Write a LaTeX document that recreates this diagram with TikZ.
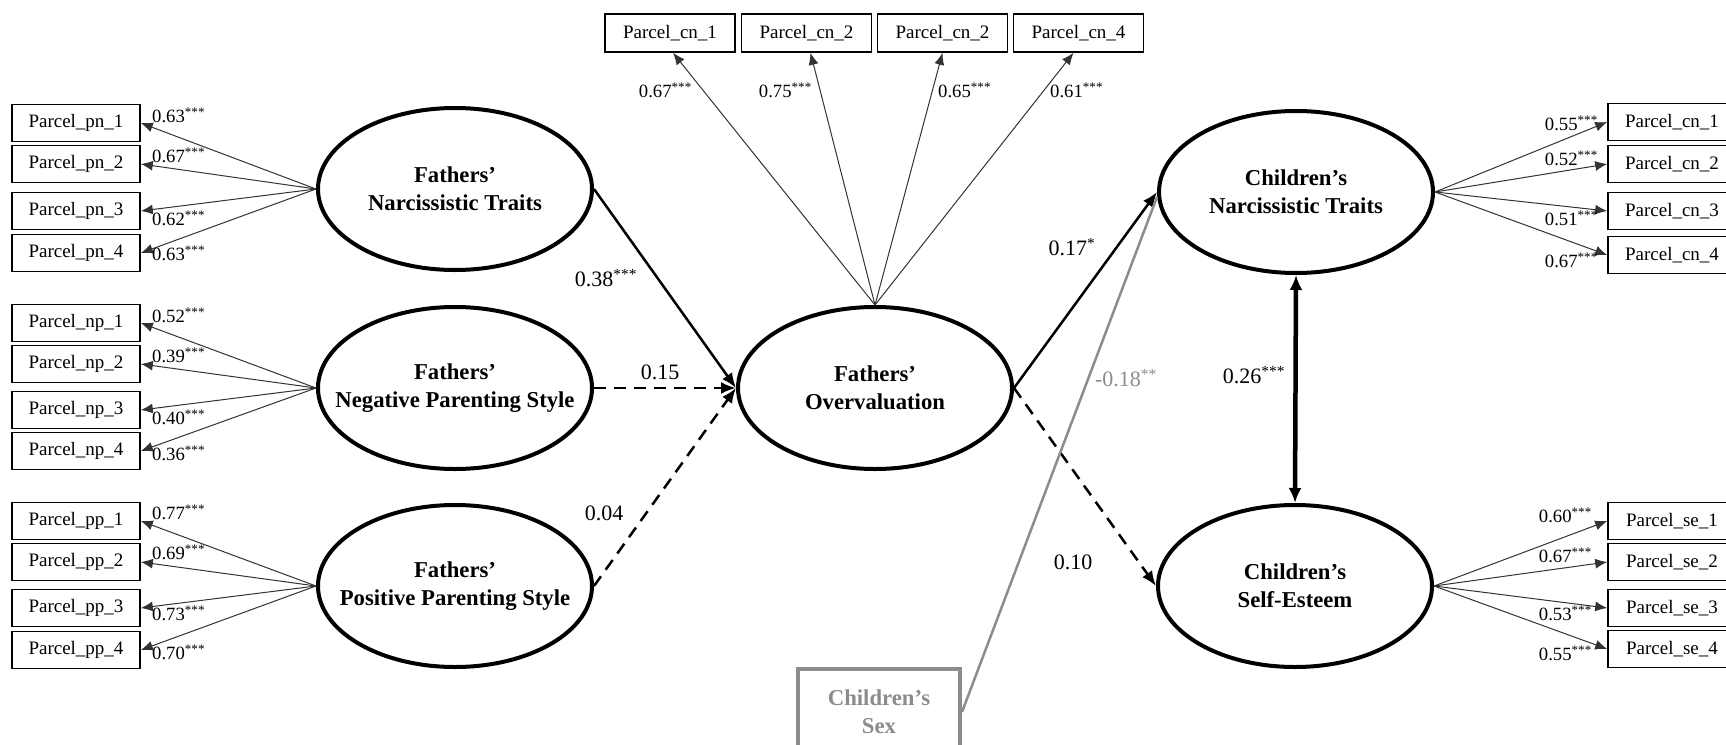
\documentclass[tikz,border=0pt]{standalone}
\usepackage{fontspec}
\setmainfont{Liberation Serif}
\usetikzlibrary{shapes.geometric,arrows.meta,calc}
\newcommand{\stars}[1]{\textsuperscript{#1}}
\newcommand{\zb}[1]{\makebox[0pt][c]{#1}}
\definecolor{sexgray}{RGB}{140,140,140}
\begin{document}
\begin{tikzpicture}[x=1pt,y=-1pt,
  latent/.style={ellipse,draw,line width=4pt,minimum width=274pt,minimum height=162pt,inner sep=0pt,align=center,font=\bfseries\fontsize{22.7}{28}\selectfont},
  ind/.style={draw,line width=1.6pt,minimum width=128pt,minimum height=37pt,inner sep=0pt,font=\fontsize{19}{19}\selectfont},
  topind/.style={ind,minimum width=130pt,minimum height=38pt},
  load/.style={draw=black!80,line width=1pt,-{Latex[length=12pt,width=10pt]}},
  lbl/.style={font=\fontsize{18.7}{19}\selectfont,inner sep=0pt},
  plbl/.style={font=\fontsize{22}{22}\selectfont,inner sep=0pt},
  struct/.style={line width=2.5pt,-{Latex[length=15pt,width=12pt]}},
  dstruct/.style={struct,dash pattern=on 12pt off 8pt},
]
\useasboundingbox (0,0) rectangle (1726,744);

% latent variables
\node[latent] (FNT) at (455,189) {\zb{Fathers’}\\\zb{Narcissistic Traits}};
\node[latent] (FNPS) at (455,388) {\zb{Fathers’}\\\zb{Negative Parenting Style}};
\node[latent] (FPPS) at (455,586) {\zb{Fathers’}\\\zb{Positive Parenting Style}};
\node[latent] (FO) at (875,388) {\zb{Fathers’}\\\zb{Overvaluation}};
\node[latent] (CNT) at (1296,192) {\zb{Children’s}\\\zb{Narcissistic Traits}};
\node[latent] (CSE) at (1295,586) {\zb{Children’s}\\\zb{Self-Esteem}};

% left indicators
\node[ind] (pn1) at (76,123) {Parcel\_pn\_1};
\node[ind] (pn2) at (76,164) {Parcel\_pn\_2};
\node[ind] (pn3) at (76,211) {Parcel\_pn\_3};
\node[ind] (pn4) at (76,253) {Parcel\_pn\_4};
\node[ind] (np1) at (76,323) {Parcel\_np\_1};
\node[ind] (np2) at (76,364) {Parcel\_np\_2};
\node[ind] (np3) at (76,410) {Parcel\_np\_3};
\node[ind] (np4) at (76,451) {Parcel\_np\_4};
\node[ind] (pp1) at (76,521) {Parcel\_pp\_1};
\node[ind] (pp2) at (76,562) {Parcel\_pp\_2};
\node[ind] (pp3) at (76,608) {Parcel\_pp\_3};
\node[ind] (pp4) at (76,650) {Parcel\_pp\_4};

% right indicators
\node[ind] (cn1) at (1672,122) {Parcel\_cn\_1};
\node[ind] (cn2) at (1672,164) {Parcel\_cn\_2};
\node[ind] (cn3) at (1672,211) {Parcel\_cn\_3};
\node[ind] (cn4) at (1672,255) {Parcel\_cn\_4};
\node[ind] (se1) at (1672,521) {Parcel\_se\_1};
\node[ind] (se2) at (1672,562) {Parcel\_se\_2};
\node[ind] (se3) at (1672,608) {Parcel\_se\_3};
\node[ind] (se4) at (1672,649) {Parcel\_se\_4};

% top indicators
\node[topind] (t1) at (670,33) {Parcel\_cn\_1};
\node[topind] (t2) at (806.5,33) {Parcel\_cn\_2};
\node[topind] (t3) at (942.5,33) {Parcel\_cn\_2};
\node[topind] (t4) at (1078.5,33) {Parcel\_cn\_4};

% children's sex
\node[draw=sexgray,line width=4pt,minimum width=162pt,minimum height=86pt,inner sep=0pt,align=center,text=sexgray,font=\bfseries\fontsize{22.7}{28}\selectfont] (SEX) at (879,712) {Children’s\\Sex};

% loadings
\foreach \i in {pn1,pn2,pn3,pn4} \draw[load] (FNT.west) -- (\i.east);
\foreach \i in {np1,np2,np3,np4} \draw[load] (FNPS.west) -- (\i.east);
\foreach \i in {pp1,pp2,pp3,pp4} \draw[load] (FPPS.west) -- (\i.east);
\foreach \i in {cn1,cn2,cn3,cn4} \draw[load] (CNT.east) -- (\i.west);
\foreach \i in {se1,se2,se3,se4} \draw[load] (CSE.east) -- (\i.west);
\draw[load] (FO.north) -- ($(t1.south)+(3,0)$);
\draw[load] (FO.north) -- ($(t2.south)+(4,0)$);
\draw[load] (FO.north) -- (t3.south);
\draw[load] (FO.north) -- ($(t4.south)+(-5,0)$);

% loading labels left
\node[lbl,anchor=west] (lpn1) at (152,115) {0.63\stars{***}};
\node[lbl,anchor=west] (lpn2) at (152,155) {0.67\stars{***}};
\node[lbl,anchor=west] (lpn3) at (152,218) {0.62\stars{***}};
\node[lbl,anchor=west] (lpn4) at (152,253) {0.63\stars{***}};
\node[lbl,anchor=west] (lnp1) at (152,315) {0.52\stars{***}};
\node[lbl,anchor=west] (lnp2) at (152,355) {0.39\stars{***}};
\node[lbl,anchor=west] (lnp3) at (152,417) {0.40\stars{***}};
\node[lbl,anchor=west] (lnp4) at (152,453) {0.36\stars{***}};
\node[lbl,anchor=west] (lpp1) at (152,512) {0.77\stars{***}};
\node[lbl,anchor=west] (lpp2) at (152,552) {0.69\stars{***}};
\node[lbl,anchor=west] (lpp3) at (152,613) {0.73\stars{***}};
\node[lbl,anchor=west] (lpp4) at (152,652) {0.70\stars{***}};
% right
\node[lbl,anchor=east] (lcn1) at (1598,123) {0.55\stars{***}};
\node[lbl,anchor=east] (lcn2) at (1598,158) {0.52\stars{***}};
\node[lbl,anchor=east] (lcn3) at (1598,218) {0.51\stars{***}};
\node[lbl,anchor=east] (lcn4) at (1598,260) {0.67\stars{***}};
\node[lbl,anchor=east] (lse1) at (1592,515) {0.60\stars{***}};
\node[lbl,anchor=east] (lse2) at (1592,555) {0.67\stars{***}};
\node[lbl,anchor=east] (lse3) at (1592,613) {0.53\stars{***}};
\node[lbl,anchor=east] (lse4) at (1592,653) {0.55\stars{***}};
% top
\node[lbl,anchor=east] (lt1) at (692,90) {0.67\stars{***}};
\node[lbl,anchor=east] (lt2) at (812,90) {0.75\stars{***}};
\node[lbl,anchor=west] (lt3) at (938,90) {0.65\stars{***}};
\node[lbl,anchor=west] (lt4) at (1050,90) {0.61\stars{***}};

% structural paths
\draw[struct] (FNT.east) -- (FO.west);
\draw[dstruct] (FNPS.east) -- (FO.west);
\draw[dstruct] (FPPS.east) -- (FO.west);
\draw[struct] (FO.east) -- (CNT.west);
\draw[dstruct] (FO.east) -- (CSE.west);
\draw[line width=4.5pt,{Latex[length=15pt,width=13pt]}-{Latex[length=15pt,width=13pt]}] (CNT.south) -- (CSE.north);
\draw[draw=sexgray,line width=2.5pt] (SEX.east) -- ($(CNT.west)+(0,5)$);

% path labels
\node[plbl] (p1) at (606,278) {0.38\stars{***}};
\node[plbl] (p2) at (660,372) {0.15};
\node[plbl] (p3) at (604,513) {0.04};
\node[plbl] (p4) at (1072,247) {0.17\stars{*}};
\node[plbl] (p5) at (1073,562) {0.10};
\node[plbl] (p6) at (1254,375) {0.26\stars{***}};
\node[plbl,text=sexgray] (p7) at (1126,378) {-0.18\stars{**}};
\end{tikzpicture}
\end{document}
